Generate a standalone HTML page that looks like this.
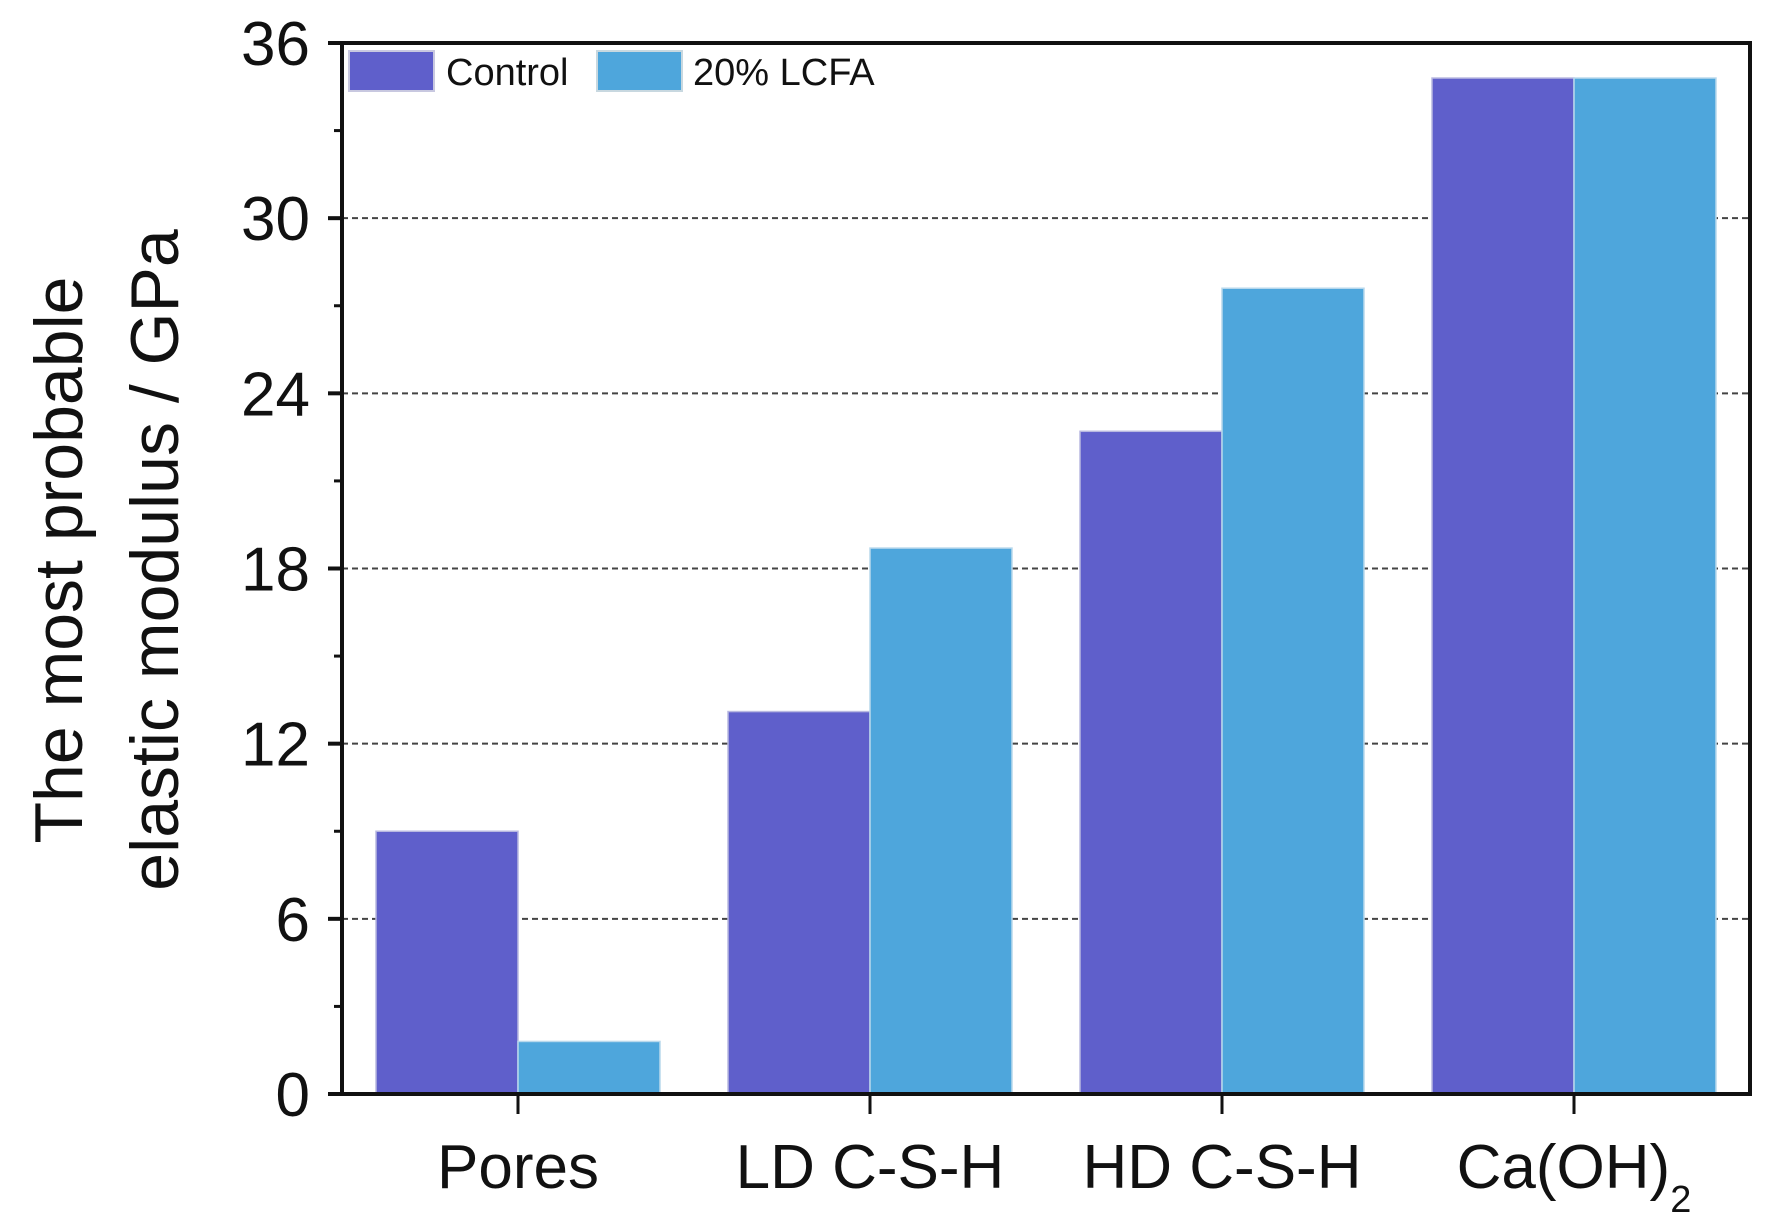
<!DOCTYPE html>
<html><head><meta charset="utf-8"><style>
html,body{margin:0;padding:0;background:#fff;}
svg{display:block;font-family:"Liberation Sans",Arial,sans-serif;}
</style></head><body>
<svg id="chart" width="1783" height="1219" viewBox="0 0 1783 1219">
<g id="grid"></g><g id="bars"></g><g id="axes"></g>
<text transform="translate(82,560) rotate(-90)" text-anchor="middle" font-size="68" fill="#111">The most probable</text>
<text transform="translate(178,560) rotate(-90)" text-anchor="middle" font-size="68" fill="#111">elastic modulus / GPa</text>
<g>
<rect x="349" y="51" width="85" height="40" fill="#5f5fcb" stroke="#c8c8e0" stroke-width="2"/>
<text x="446" y="85" font-size="38" fill="#111">Control</text>
<rect x="597" y="51" width="85" height="40" fill="#4ea6dc" stroke="#c8d8e0" stroke-width="2"/>
<text x="693" y="85" font-size="38" fill="#111">20% LCFA</text>
</g>
</svg>
<script>
const categories = ["Pores","LD C-S-H","HD C-S-H","Ca(OH)"];
const controlValues = [9.0, 13.1, 22.7, 34.8];
const lcfaValues = [1.8, 18.7, 27.6, 34.8];
const yTicks = [0, 6, 12, 18, 24, 30, 36];
const yMinor = [3, 9, 15, 21, 27, 33];

const NS = "http://www.w3.org/2000/svg";
const L = 342, R = 1750, T = 43, B = 1094;
const yMax = 36;
function y(v){ return B - v * (B - T) / yMax; }
const groupW = (R - L) / categories.length;
function xc(i){ return L + groupW * (i + 0.5); }
const barW = 142;
function mk(tag, attrs, parent){ const e = document.createElementNS(NS, tag); for (const k in attrs) e.setAttribute(k, attrs[k]); parent.appendChild(e); return e; }

const grid = document.getElementById('grid');
yTicks.forEach(v => {
  if (v === 0 || v === yMax) return;
  const g = mk('line', {x1: L, x2: R, y1: y(v), y2: y(v), stroke: '#444', 'stroke-width': 2, 'stroke-dasharray': '6,4'}, grid);
  
  
});

const bars = document.getElementById('bars');
categories.forEach((c, i) => {
  const b1 = mk('rect', {x: xc(i) - barW, y: y(controlValues[i]), width: barW, height: B - y(controlValues[i]), fill: '#5f5fcb', stroke: '#b8b8e0', 'stroke-width': 1.5}, bars);
  
  
  const b2 = mk('rect', {x: xc(i), y: y(lcfaValues[i]), width: barW, height: B - y(lcfaValues[i]), fill: '#4ea6dc', stroke: '#b8d8ec', 'stroke-width': 1.5}, bars);
  
  
});

const axes = document.getElementById('axes');
const frame = mk('rect', {x: L, y: T, width: R - L, height: B - T, fill: 'none', stroke: '#111', 'stroke-width': 4}, axes);


yTicks.forEach(v => {
  const t = mk('line', {x1: L - 14, x2: L, y1: y(v), y2: y(v), stroke: '#111', 'stroke-width': 4}, axes);
  
  
  const lb = mk('text', {x: L - 32, y: y(v) + 22, 'text-anchor': 'end', 'font-size': 62, fill: '#111'}, axes);
  lb.textContent = v;
  
  
});
yMinor.forEach(v => {
  const t = mk('line', {x1: L - 8, x2: L, y1: y(v), y2: y(v), stroke: '#111', 'stroke-width': 3}, axes);
  
  
});
categories.forEach((c, i) => {
  const t = mk('line', {x1: xc(i), x2: xc(i), y1: B, y2: B + 20, stroke: '#111', 'stroke-width': 3}, axes);
  
  
  const lb = mk('text', {x: xc(i), y: 1188, 'text-anchor': 'middle', 'font-size': 62, fill: '#111'}, axes);
  lb.textContent = c;
  
  
  if (c === "Ca(OH)") {
    const s = mk('tspan', {'font-size': 38, dy: 24}, lb);
    s.textContent = '2';
  }
});
</script>
</body></html>
